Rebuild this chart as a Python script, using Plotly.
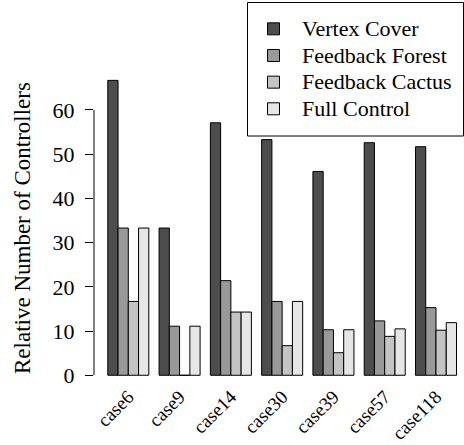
import plotly.graph_objects as go

categories = ["case6", "case9", "case14", "case30", "case39", "case57", "case118"]
vertex_cover = [66.7, 33.3, 57.1, 53.3, 46.1, 52.6, 51.7]
feedback_forest = [33.3, 11.1, 21.4, 16.7, 10.3, 12.3, 15.3]
feedback_cactus = [16.7, 0.0, 14.3, 6.7, 5.1, 8.8, 10.2]
full_control = [33.3, 11.1, 14.3, 16.7, 10.3, 10.5, 11.9]

series_names = ["Vertex Cover", "Feedback Forest", "Feedback Cactus", "Full Control"]
series_values = [vertex_cover, feedback_forest, feedback_cactus, full_control]
series_colors = ["#4d4d4d", "#999999", "#c4c4c4", "#e6e6e6"]

FONT = "Liberation Serif"
FS = 22
W, H = 464, 445
L, R, T, B = 94, 0, 69, 58
PW, PH = W - L - R, H - T - B


def px_x(p):
    return (p - L) / PW


def px_y(p):
    return (H - B - p) / PH


fig = go.Figure()
for name, vals, col in zip(series_names, series_values, series_colors):
    fig.add_trace(go.Bar(
        x=categories, y=vals,
        name=f"<span style='font-size:{FS}px'>{name}</span>",
        marker=dict(color=col, line=dict(color="black", width=1)),
    ))

fig.update_layout(
    width=W, height=H,
    margin=dict(l=L, r=R, t=T, b=B, pad=0, autoexpand=False),
    barmode="group", bargap=0.2, bargroupgap=0,
    plot_bgcolor="white", paper_bgcolor="white",
    font=dict(family=FONT, size=FS, color="black"),
    showlegend=True,
    legend=dict(
        x=px_x(245), xanchor="left", y=px_y(10.5), yanchor="top",
        borderwidth=0, bgcolor="rgba(0,0,0,0)",
        font=dict(family=FONT, size=18.2, color="black"),
        tracegroupgap=0, itemwidth=47,
    ),
    xaxis=dict(
        type="category", range=[-0.669, 6.546], automargin=False,
        showline=False, showgrid=False, zeroline=False,
        ticks="", tickangle=-45, ticklabelstandoff=-6,
        tickfont=dict(family=FONT, size=19, color="black"),
    ),
    yaxis=dict(
        range=[-2.65, 69.27], automargin=False,
        tickmode="array", tickvals=[0, 10, 20, 30, 40, 50, 60],
        showline=False, showgrid=False, zeroline=False,
        ticks="outside", ticklen=8, tickcolor="black", tickwidth=1,
        ticklabelstandoff=6,
        tickfont=dict(family=FONT, size=FS, color="black"),
    ),
    shapes=[
        dict(type="line", xref="paper", yref="y", x0=0, x1=0, y0=0, y1=60,
             line=dict(color="black", width=1)),
        dict(type="rect", xref="paper", yref="paper",
             x0=px_x(247.5), x1=px_x(463.5), y0=px_y(136), y1=px_y(2.5),
             line=dict(color="black", width=1), fillcolor="white", layer="below"),
    ],
    annotations=[dict(text="Relative Number of Controllers", xref="paper", yref="paper",
                      x=px_x(22), y=0.5, xanchor="center", yanchor="middle",
                      textangle=-90, showarrow=False,
                      font=dict(family=FONT, size=23, color="black"))],
)

fig.write_html("out.html")
